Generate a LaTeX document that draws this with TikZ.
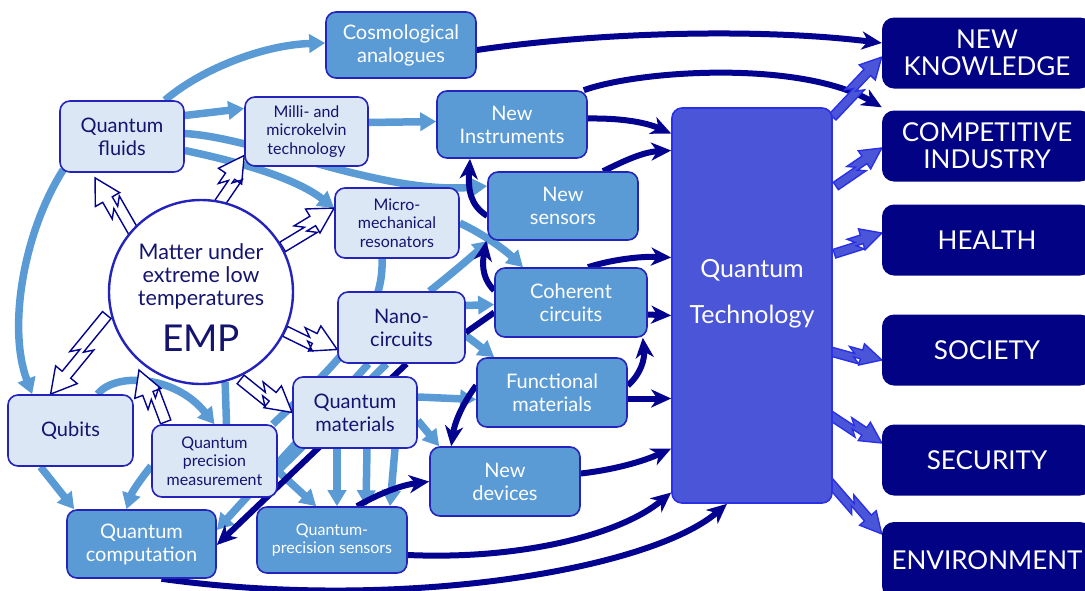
\documentclass[tikz,border=0pt]{standalone}
\usepackage{fontspec}
\setmainfont{Lato}
\usetikzlibrary{arrows.meta,calc}
\pgfdeclarelayer{background}
\pgfsetlayers{background,main}

\definecolor{lightfill}{HTML}{DCE7F5}
\definecolor{midfill}{HTML}{5B9BD5}
\definecolor{boxline}{HTML}{2424BC}
\definecolor{inktext}{HTML}{14146E}
\definecolor{navyfill}{HTML}{020284}
\definecolor{techfill}{HTML}{4B55D8}
\definecolor{techline}{HTML}{2A30E6}
\definecolor{paleflow}{HTML}{5B9BD5}
\definecolor{deepflow}{HTML}{03038F}

% zig-zag "lightning" arrow: #1 style, #2 tail, #3 tip, #4 half shaft width,
% #5 half head width, #6 head length
\newcommand\boltarrow[6]{%
  \path (#2) coordinate (boltA) (#3) coordinate (boltB);
  \pgfpointdiff{\pgfpointanchor{boltA}{center}}{\pgfpointanchor{boltB}{center}}%
  \pgfgetlastxy{\boltdx}{\boltdy}%
  \pgfmathsetmacro\boltang{atan2(\boltdy,\boltdx)}%
  \pgfmathsetmacro\boltlen{veclen(\boltdx,\boltdy)}%
  \pgfmathsetmacro\boltmid{0.45*\boltlen}%
  \pgfmathsetmacro\boltfwd{\boltmid+1.5*#4}%
  \pgfmathsetmacro\boltback{\boltmid-1.5*#4}%
  \pgfmathsetmacro\bolthead{\boltlen-#6}%
  \pgfmathsetmacro\boltlo{-2.2*#4}%
  \pgfmathsetmacro\boltli{-0.2*#4}%
  \begin{scope}[shift={(boltA)},rotate=\boltang]
    \draw[#1] (0pt,\boltlo pt) -- (\boltfwd pt,\boltlo pt) -- (\boltmid pt,-#4 pt)
      -- (\bolthead pt,-#4 pt) -- (\bolthead pt,-#5 pt) -- (\boltlen pt,0pt)
      -- (\bolthead pt,#5 pt) -- (\bolthead pt,#4 pt) -- (\boltback pt,#4 pt)
      -- (\boltmid pt,\boltli pt) -- (0pt,\boltli pt) -- cycle;
  \end{scope}}

\tikzset{
  box/.style={draw=boxline, line width=1.6pt, rounded corners=10pt, align=center, inner sep=2pt},
  lightbox/.style={box, fill=lightfill, text=inktext},
  midbox/.style={box, fill=midfill, text=white},
  outbox/.style={fill=navyfill, rounded corners=12pt, text=white, align=center,
    minimum width=210pt, minimum height=71pt, font=\fontsize{26}{27}\selectfont},
  big/.style={font=\fontsize{20}{23}\selectfont},
  small/.style={font=\fontsize{16}{18.5}\selectfont},
  paleline/.style={draw=paleflow, line width=7.5pt},
  paleflow/.style={paleline, -{Triangle[length=16pt,width=18pt]}},
  deepline/.style={draw=deepflow, line width=6pt},
  deepflow/.style={deepline, -{Stealth[length=20pt,width=18pt,inset=6pt]}},
  hollowbolt/.style={fill=white, draw=deepflow, line width=1.4pt, line join=miter},
  techbolt/.style={fill=techfill, draw=techline, line width=1.4pt, line join=miter},
}

\begin{document}
\begin{tikzpicture}[x=1pt,y=-1pt]
\useasboundingbox (0,0) rectangle (1085,590);

% outcome boxes
\node[outbox] (know) at (987,53) {NEW\\KNOWLEDGE};
\node[outbox] (ind) at (987,146) {COMPETITIVE\\INDUSTRY};
\node[outbox] (health) at (987,240) {HEALTH};
\node[outbox] (society) at (987,350) {SOCIETY};
\node[outbox] (security) at (987,460) {SECURITY};
\node[outbox, minimum height=76pt] (env) at (987,560) {ENVIRONMENT};

% central technology block
\node[draw=techline, fill=techfill, line width=1.6pt, rounded corners=10pt,
      minimum width=160pt, minimum height=395pt] (qt) at (752,305.5) {};
\node[text=white, align=center, font=\fontsize{25}{46}\selectfont] (qtlabel) at (752,294) {Quantum\\Technology};

% the EMP circle
\node[circle, draw=boxline, line width=2.4pt, fill=white, minimum size=184pt, inner sep=0pt] (emp) at (201,292) {};
\node[text=inktext, align=center, font=\fontsize{21.5}{23}\selectfont] (empwords) at (201,276) {Matter under\\extreme low\\temperatures};
\node[text=inktext, font=\fontsize{37}{37}\selectfont] (emplabel) at (201,338) {EMP};

% research fields (light) and results (medium)
\node[midbox, big, minimum width=150pt, minimum height=66pt] (cosmo) at (401,45) {Cosmological\\analogues};
\node[lightbox, big, minimum width=124pt, minimum height=71pt] (fluids) at (122,136.5) {Quantum\\fluids};
\node[lightbox, small, minimum width=123pt, minimum height=69pt] (milli) at (306.5,131.5) {Milli- and\\microkelvin\\technology};
\node[midbox, big, minimum width=150pt, minimum height=67pt] (instr) at (512,124.5) {New\\Instruments};
\node[midbox, big, minimum width=150pt, minimum height=68pt] (nsens) at (563,206) {New\\sensors};
\node[lightbox, small, minimum width=124pt, minimum height=70pt] (micro) at (397,223) {Micro-\\mechanical\\resonators};
\node[midbox, big, minimum width=152pt, minimum height=69pt] (coher) at (571,302.5) {Coherent\\circuits};
\node[lightbox, big, minimum width=127pt, minimum height=71pt] (nano) at (401.5,327.5) {Nano-\\circuits};
\node[midbox, big, minimum width=150pt, minimum height=69pt] (func) at (552,392.5) {Functional\\materials};
\node[lightbox, big, minimum width=124pt, minimum height=71pt] (qmat) at (355,412.5) {Quantum\\materials};
\node[midbox, big, minimum width=150pt, minimum height=69pt] (ndev) at (505,481.5) {New\\devices};
\node[lightbox, big, minimum width=125pt, minimum height=71pt] (qubits) at (70.5,430.5) {Qubits};
\node[lightbox, small, minimum width=125pt, minimum height=72pt] (qpm) at (214.5,461) {Quantum\\precision\\measurement};
\node[midbox, big, minimum width=149pt, minimum height=68pt] (qcomp) at (141.5,544) {Quantum\\computation};
\node[midbox, small, minimum width=150pt, minimum height=66pt] (qps) at (332,540) {Quantum-\\precision sensors};

\begin{pgfonlayer}{background}
% pale links between the fields
\draw[paleflow] ([xshift=43pt]fluids.north) .. controls (200,70) and (262,45) .. ([yshift=2pt]cosmo.west);
\draw[paleflow] ([xshift=4pt,yshift=3pt]fluids.south west) .. controls (22,235) and (8,330) .. ([xshift=25pt]qubits.north west);
\draw[paleflow] ([yshift=21pt]fluids.east) -- ([yshift=23pt]milli.west);
\draw[paleflow] ([yshift=3pt]fluids.east) .. controls (260,138) and (380,195) .. ([yshift=20pt]nsens.west);
\draw[paleflow] ([yshift=-14pt]fluids.east) .. controls (240,162) and (295,178) .. ([yshift=15pt]micro.west);
\draw[paleflow] ([yshift=9pt]milli.east) -- ([yshift=3pt]instr.west);
\draw[paleflow] (micro.east) .. controls (485,235) and (505,250) .. ([xshift=-48pt]coher.north);
\draw[paleline] ([xshift=-15pt]micro.south) .. controls (385,320) and (330,370) .. ([xshift=-5pt]qpm.north east);
\draw[paleflow] ([xshift=28pt]nano.north) .. controls (450,275) and (470,258) .. ([xshift=2pt]nsens.south west);
\draw[paleflow] ([yshift=22pt]nano.east) -- ([yshift=-2pt]coher.west);
\draw[paleflow] ([yshift=-8pt]nano.east) -- ([xshift=18pt]func.north west);
\draw[paleflow] ([xshift=-33pt]nano.south) -- ([yshift=14pt]qcomp.east);
\draw[paleline] ([xshift=-15pt]nano.south) -- ([yshift=-10pt]qpm.east);
\draw[paleflow] ([yshift=15.5pt]qmat.east) -- ([yshift=-7pt]func.west);
\draw[paleflow] ([yshift=-8pt]qmat.east) -- ([xshift=10pt]ndev.north west);
\draw[paleflow] ([xshift=-18pt]qmat.south) -- ([xshift=5pt]qps.north);
\draw[paleflow] ([xshift=12pt]qmat.south) -- ([xshift=34pt]qps.north);
\draw[paleflow] ([xshift=40pt]qmat.south) -- ([xshift=58pt]qps.north);
\draw[paleflow] ([xshift=27pt]qubits.north) .. controls (115,372) and (175,375) .. (qpm.north);
\draw[paleline] (emp.-75) -- ([xshift=12pt]qpm.north);
\draw[paleflow] ([yshift=-5pt]qpm.west) .. controls (140,480) and (132,492) .. ([xshift=-15pt]qcomp.north);
\draw[paleflow] ([yshift=-10pt]qpm.east) -- ([xshift=60pt]qps.north west);
\draw[paleflow] ([xshift=-30pt]qubits.south) -- ([xshift=8pt]qcomp.north west);

% deep links towards technology and outcomes
\draw[deepflow] ([yshift=-5pt]cosmo.east) .. controls (600,32) and (760,28) .. ([yshift=10pt]know.west);
\draw[deepflow] ([xshift=-4pt]instr.north east) .. controls (640,70) and (800,60) .. ([yshift=3pt]ind.north west);
\draw[deepflow] ([yshift=6pt]instr.east) .. controls (620,118) and (645,122) .. ([yshift=172pt]qt.west);
\draw[deepflow] ([xshift=40pt]nsens.north) .. controls (622,162) and (642,152) .. ([yshift=155pt]qt.west);
\draw[deepflow] ([xshift=17pt]coher.north) .. controls (610,260) and (640,256) .. ([yshift=48pt]qt.west);
\draw[deepflow] ([yshift=-12pt]coher.east) -- ([yshift=-10pt]qt.west);
\draw[deepflow] ([yshift=-6pt]func.east) -- ([yshift=-93pt]qt.west);
\draw[deepflow] ([yshift=8pt]ndev.east) .. controls (612,470) and (642,462) .. ([yshift=-143pt]qt.west);
\draw[deepflow] ([yshift=-15pt]qps.east) .. controls (520,560) and (620,535) .. ([yshift=-187pt]qt.west);
\draw[deepflow] ([xshift=20pt]qcomp.south) .. controls (400,612) and (650,570) .. ([xshift=-25pt]qt.south);
\draw[deepflow] ([xshift=25pt]qps.north) .. controls (380,493) and (402,485) .. (ndev.west);
\draw[deepflow] ([xshift=5pt]nano.south) -- ([yshift=-1pt]qcomp.east);
\draw[deepline] ([yshift=-5pt]nano.east) -- ([yshift=-10pt]coher.west);
\draw[deepflow] ([yshift=12pt]coher.west) .. controls (480,276) and (483,260) .. ([xshift=-1pt]nsens.south west);
\draw[deepflow] ([yshift=-10pt]nsens.west) .. controls (470,205) and (468,190) .. ([xshift=-42pt]instr.south);
\draw[deepflow] ([yshift=7pt]func.east) .. controls (640,375) and (645,360) .. ([xshift=-5pt]coher.south east);
\draw[deepflow] ([yshift=7pt]func.west) .. controls (465,400) and (455,420) .. ([xshift=22pt]ndev.north west);

% hollow bolts leaving the EMP circle
\boltarrow{hollowbolt}{emp.142}{[xshift=-27pt,yshift=-5pt]fluids.south}{5.5}{14}{25}
\boltarrow{hollowbolt}{emp.82}{[yshift=-24pt]milli.west}{5.5}{14}{25}
\boltarrow{hollowbolt}{emp.33}{[yshift=15pt]micro.west}{5.5}{14}{25}
\boltarrow{hollowbolt}{emp.-21}{[yshift=-22pt]nano.west}{5.5}{14}{25}
\boltarrow{hollowbolt}{emp.-62}{qmat.west}{5.5}{14}{25}
\boltarrow{hollowbolt}{[xshift=-55pt]qpm.north}{$(emp.center)+(-62,78)$}{5.5}{14}{25}
\boltarrow{hollowbolt}{emp.197}{[xshift=-20pt]qubits.north}{5.5}{14}{25}

% bolts from technology to the outcomes
\boltarrow{techbolt}{[xshift=-4pt,yshift=-6pt]qt.north east}{[yshift=-4pt]know.west}{4.5}{11}{21}
\boltarrow{techbolt}{[yshift=124pt]qt.east}{[yshift=-2pt]ind.west}{4.5}{11}{21}
\boltarrow{techbolt}{[yshift=57pt]qt.east}{[yshift=7pt]health.west}{4.5}{11}{21}
\boltarrow{techbolt}{[yshift=-41pt]qt.east}{[yshift=-10pt]society.west}{4.5}{11}{21}
\boltarrow{techbolt}{[yshift=-105pt]qt.east}{[yshift=17pt]security.west}{4.5}{11}{21}
\boltarrow{techbolt}{[yshift=-172pt]qt.east}{[yshift=26pt]env.west}{4.5}{11}{21}
\end{pgfonlayer}
\end{tikzpicture}
\end{document}
